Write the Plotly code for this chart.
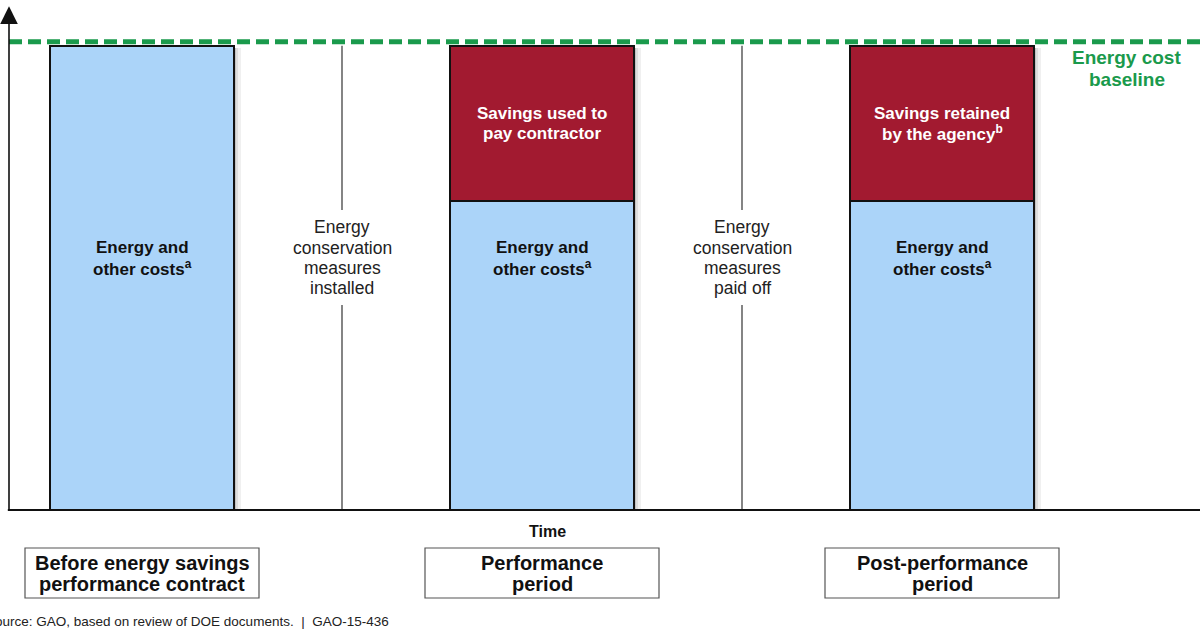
import plotly.graph_objects as go

# ---- data ----
periods = ["Before energy savings<br>performance contract",
           "Performance<br>period",
           "Post-performance<br>period"]
period_pos = [0, 2, 4]
energy_costs = [100, 66.7, 66.7]
savings = [0, 33.3, 33.3]
savings_labels = ["", "Savings used to<br>pay contractor",
                  "Savings retained<br>by the agency<sup>b</sup>"]
energy_label = "Energy and<br>other costs<sup>a</sup>"
baseline = 100.9
milestones = ["Energy<br>conservation<br>measures<br>installed",
              "Energy<br>conservation<br>measures<br>paid off"]
milestone_pos = [1, 3]
baseline_label = "Energy cost<br>baseline"
source_text = "Source: GAO, based on review of DOE documents.  |  GAO-15-436"

BLUE = "#abd4f9"
RED = "#a21a30"
GREEN = "#1a9a4c"
FONT = "Liberation Sans, Arial, sans-serif"

X0, X1 = -0.665, 5.29
Y0, Y1 = 0, 107.7
BW = 0.92

fig = go.Figure()

# soft shadow to the right of bars
totals = [e + s for e, s in zip(energy_costs, savings)]
for off, a in [(0.035, 0.06), (0.022, 0.08), (0.012, 0.12)]:
    fig.add_trace(go.Bar(x=[p + off for p in period_pos], y=[t - 0.4 for t in totals],
                         width=BW, marker=dict(color=f"rgba(0,0,0,{a})", line=dict(width=0)),
                         hoverinfo="skip", showlegend=False))
fig.add_trace(go.Bar(x=period_pos, y=energy_costs, width=BW,
                     marker=dict(color=BLUE, line=dict(color="#111", width=2)),
                     showlegend=False, name="Energy and other costs"))
fig.add_trace(go.Bar(x=period_pos, y=savings, base=energy_costs, width=BW,
                     marker=dict(color=RED, line=dict(color="#111", width=2)),
                     showlegend=False, name="Savings"))

# baseline dashed line
fig.add_trace(go.Scatter(x=[X0, X1], y=[baseline, baseline], mode="lines",
                         line=dict(color=GREEN, width=5, dash="13px,6px"),
                         hoverinfo="skip", showlegend=False, cliponaxis=False))

# milestone vertical lines (with a gap for the label)
GAP_LO, GAP_HI = 44.3, 64.7
for mx in milestone_pos:
    fig.add_trace(go.Scatter(x=[mx, mx, None, mx, mx], y=[0, GAP_LO, None, GAP_HI, 100],
                             mode="lines", line=dict(color="#333", width=1.2),
                             hoverinfo="skip", showlegend=False))

ann = []


def add_lines(x, y, xref, yref, text, size, color, spacing, bold=False):
    lines = text.split("<br>")
    n = len(lines)
    for i, ln in enumerate(lines):
        t = f"<b>{ln}</b>" if bold else ln
        ann.append(dict(x=x, y=y, xref=xref, yref=yref, text=t, showarrow=False,
                        yanchor="middle", xanchor="center",
                        yshift=-(i - (n - 1) / 2) * spacing,
                        font=dict(family=FONT, size=size, color=color)))


for p in period_pos:
    add_lines(p, 54.4, "x", "y", energy_label, 17, "#111", 20, bold=True)
for p, s, lbl in zip(period_pos, savings, savings_labels):
    if s > 0:
        add_lines(p, 83.4, "x", "y", lbl, 17, "white", 20, bold=True)
for mx, lbl in zip(milestone_pos, milestones):
    add_lines(mx, 54.4, "x", "y", lbl, 17.5, "#222", 20.3)
add_lines(4.9225, 95.2, "x", "y", baseline_label, 19, GREEN, 22, bold=True)

ann.append(dict(x=2.025, y=-0.04, xref="x", yref="paper", text="<b>Time</b>",
                showarrow=False, yanchor="middle",
                font=dict(family=FONT, size=16, color="#111")))

shapes = [
    dict(type="line", xref="paper", yref="y", x0=-0.001, x1=1, y0=0, y1=0,
         line=dict(color="#111", width=4)),
]
for p, lbl in zip(period_pos, periods):
    shapes.append(dict(type="rect", xref="x", yref="paper", x0=p - 0.585, x1=p + 0.585,
                       y0=-0.1737, y1=-0.0739, line=dict(color="#555", width=1.2),
                       fillcolor="white", layer="above"))
    add_lines(p, -0.1238, "x", "paper", lbl, 20, "#111", 21, bold=True)

ann.append(dict(x=-0.021, y=-0.2196, xref="paper", yref="paper", text=source_text,
                showarrow=False, xanchor="left", yanchor="middle",
                font=dict(family=FONT, size=13.5, color="#222")))
# y axis with arrow head
ann.append(dict(x=X0, y=108.5, xref="x", yref="y", ax=X0, ay=0,
                axref="x", ayref="y", text="", showarrow=True,
                arrowhead=2, arrowsize=2.2, arrowwidth=1.6, arrowcolor="#111"))

fig.update_layout(
    width=1200, height=630,
    margin=dict(l=9, r=0, t=10, b=119),
    paper_bgcolor="white", plot_bgcolor="white",
    barmode="overlay", bargap=0,
    xaxis=dict(range=[X0, X1], visible=False, fixedrange=True),
    yaxis=dict(range=[Y0, Y1], visible=False, fixedrange=True),
    annotations=ann, shapes=shapes,
)

fig.write_html("out.html", config={"displayModeBar": False},
               post_script="document.body.style.margin='0';")
